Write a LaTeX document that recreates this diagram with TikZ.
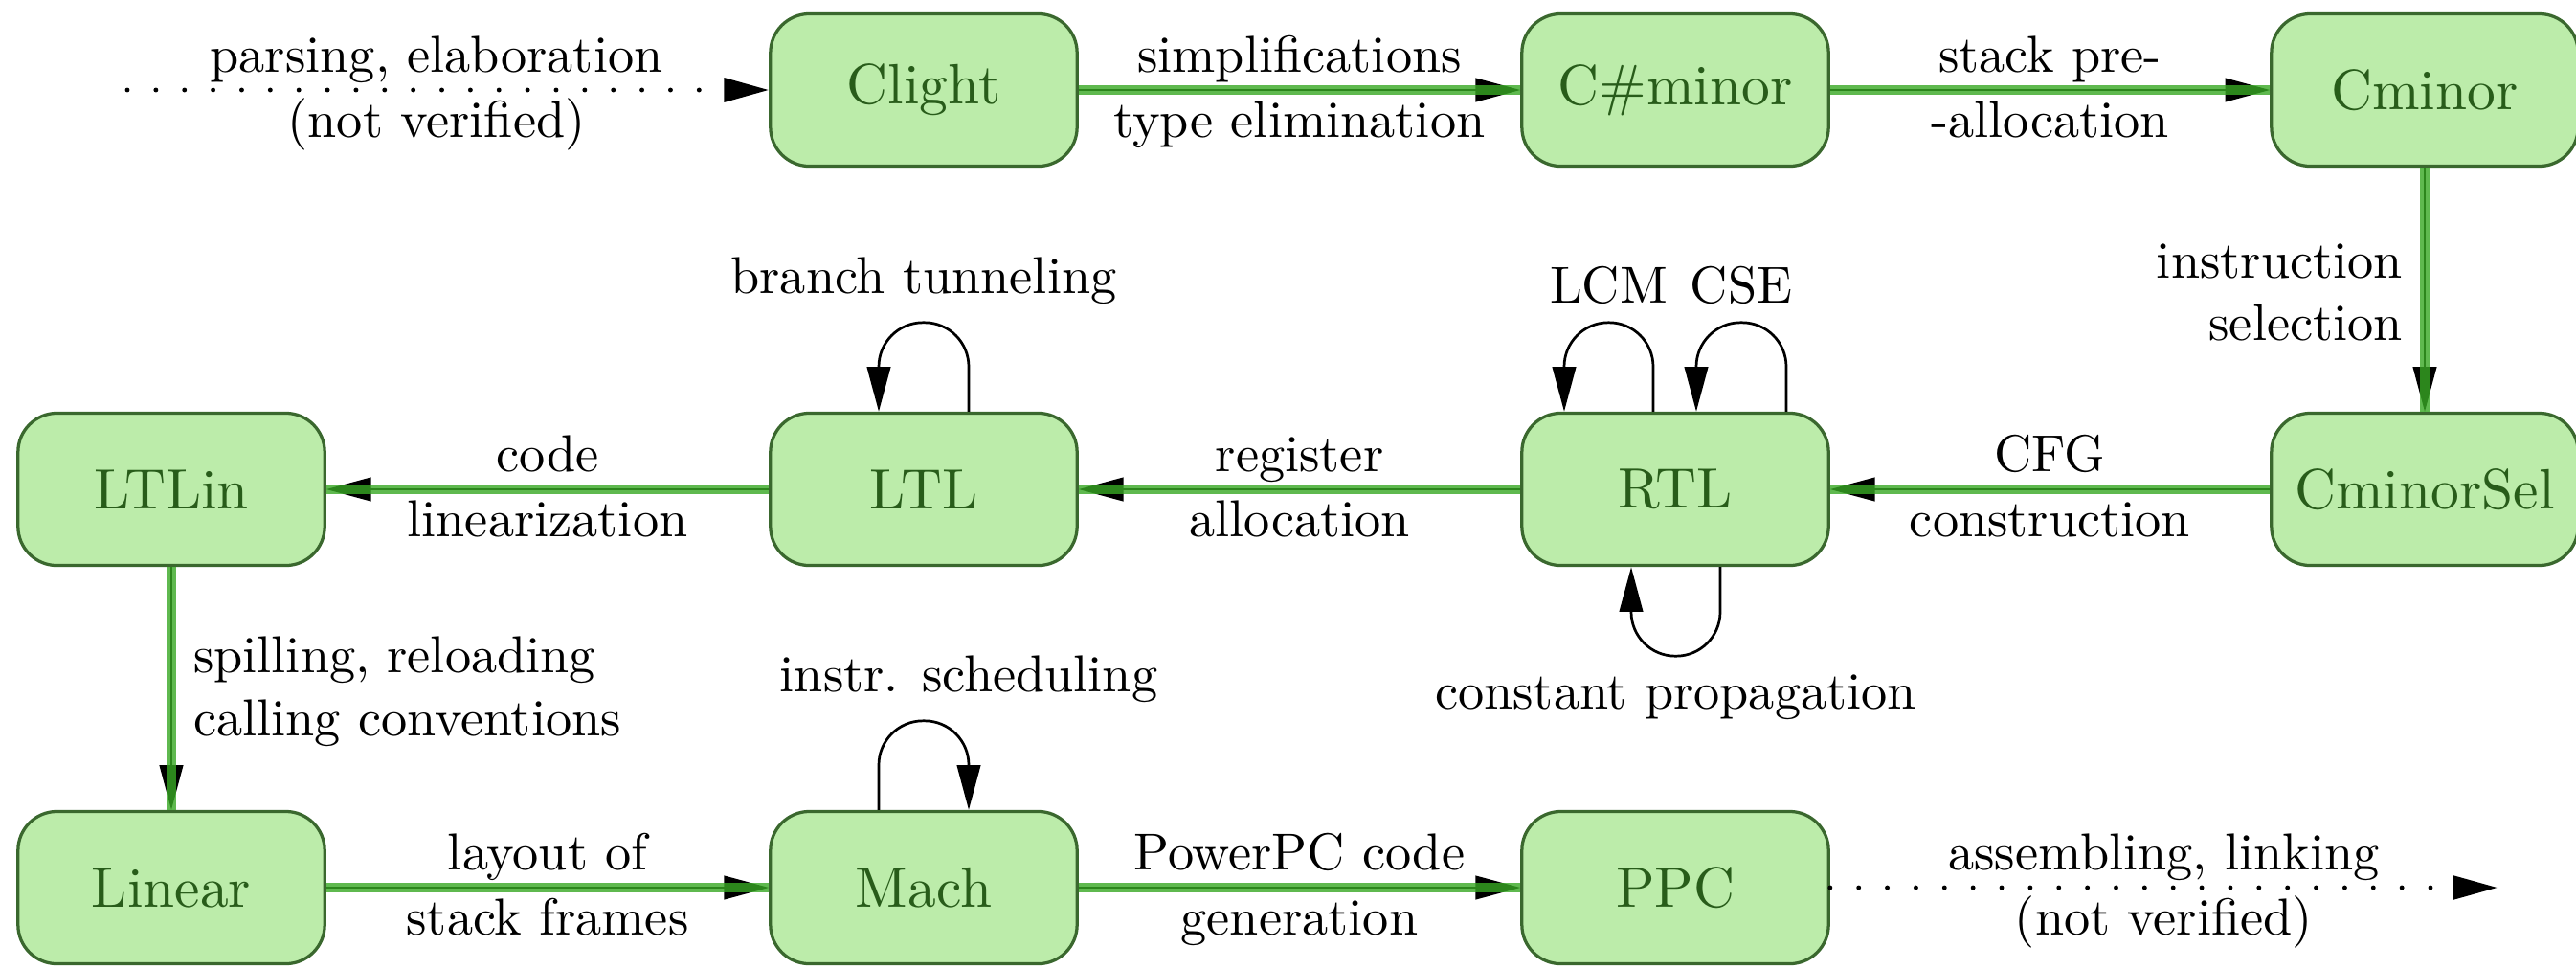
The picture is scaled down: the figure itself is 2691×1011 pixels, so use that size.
\documentclass[tikz,border=0pt]{standalone}
\usetikzlibrary{arrows.meta}
\definecolor{nodefill}{RGB}{188,236,170}
\definecolor{nodeborder}{RGB}{58,104,46}
\definecolor{nodetext}{RGB}{40,92,26}
\definecolor{flowgreen}{RGB}{55,168,35}
\tikzset{
  stage/.style={draw=nodeborder, fill=nodefill, text=nodetext, rounded corners=7.5pt,
    line width=0.6pt, minimum width=59pt, minimum height=29.3pt,
    font=\fontsize{10.95}{13.6}\selectfont},
  flow/.style={->, line width=0.5pt, black,
    postaction={draw=flowgreen, line width=1.8pt, draw opacity=0.8, -}},
  selfloop/.style={->, line width=0.5pt, black, rounded corners=8.5pt},
  notverified/.style={->, line width=0.9pt, line cap=round, dash pattern=on 0pt off 5.5pt, black},
  labup/.style={anchor=base, yshift=3.5pt, inner sep=0pt},
  labdn/.style={anchor=base, yshift=-9.1pt, inner sep=0pt},
}
\begin{document}
\begin{tikzpicture}[x=0.18416pt, y=-0.18416pt, >={Triangle[length=8.6pt,width=4.5pt]}]
\useasboundingbox (0,0) rectangle (2691,1011);
% nodes
\node[stage] (Clight)    at (965,94)   {Clight};
\node[stage] (Csharp)    at (1750,94)  {C\#minor};
\node[stage] (Cminor)    at (2533,94)  {Cminor};
\node[stage] (CminorSel) at (2533,511) {CminorSel};
\node[stage] (RTL)       at (1750,511) {RTL};
\node[stage] (LTL)       at (965,511)  {LTL};
\node[stage] (LTLin)     at (179,511)  {LTLin};
\node[stage] (Linear)    at (179,927)  {Linear};
\node[stage] (Mach)      at (965,927)  {Mach};
\node[stage] (PPC)       at (1750,927) {PPC};
\coordinate (src) at (133,94);
\coordinate (dst) at (2609,927);
% unverified ends
\draw[notverified] (src) -- node[labup, pos=0.482]{parsing, elaboration}
  node[labdn, pos=0.482]{(not verified)} (Clight);
\draw[notverified] (PPC) -- node[labup]{assembling, linking}
  node[labdn]{(not verified)} (dst);
% verified passes
\draw[flow] (Clight) -- node[labup]{simplifications} node[labdn]{type elimination} (Csharp);
\draw[flow] (Csharp) -- node[labup]{stack pre-} node[labdn]{-allocation} (Cminor);
\draw[flow] (Cminor) -- node[anchor=east, xshift=-4pt, yshift=-0.5pt, align=right, inner sep=0pt]{instruction\\selection} (CminorSel);
\draw[flow] (CminorSel) -- node[labup]{CFG} node[labdn]{construction} (RTL);
\draw[flow] (RTL) -- node[labup]{register} node[labdn]{allocation} (LTL);
\draw[flow] (LTL) -- node[labup]{code} node[labdn]{linearization} (LTLin);
\draw[flow] (LTLin) -- node[anchor=west, xshift=4pt, yshift=-0.6pt, align=left, inner sep=0pt]{spilling, reloading\\calling conventions} (Linear);
\draw[flow] (Linear) -- node[labup]{layout of} node[labdn]{stack frames} (Mach);
\draw[flow] (Mach) -- node[labup]{PowerPC code} node[labdn]{generation} (PPC);
% self loops
\draw[selfloop] ([shift={(47,0)}]LTL.north) -- ++(0,-93) -| node[pos=0.25, above]{branch tunneling} ([shift={(-47,0)}]LTL.north);
\draw[selfloop] ([shift={(-23,0)}]RTL.north) -- ++(0,-93) -| node[pos=0.25, above]{LCM} ([shift={(-116,0)}]RTL.north);
\draw[selfloop] ([shift={(116,0)}]RTL.north) -- ++(0,-93) -| node[pos=0.25, above]{CSE} ([shift={(22,0)}]RTL.north);
\draw[selfloop] ([shift={(47,0)}]RTL.south) -- ++(0,93) -| node[pos=0.25, below]{constant propagation} ([shift={(-46,0)}]RTL.south);
\draw[selfloop] ([shift={(-47,0)}]Mach.north) -- ++(0,-93) -| node[pos=0.5, above]{instr. scheduling} ([shift={(47,0)}]Mach.north);
\end{tikzpicture}
\end{document}
